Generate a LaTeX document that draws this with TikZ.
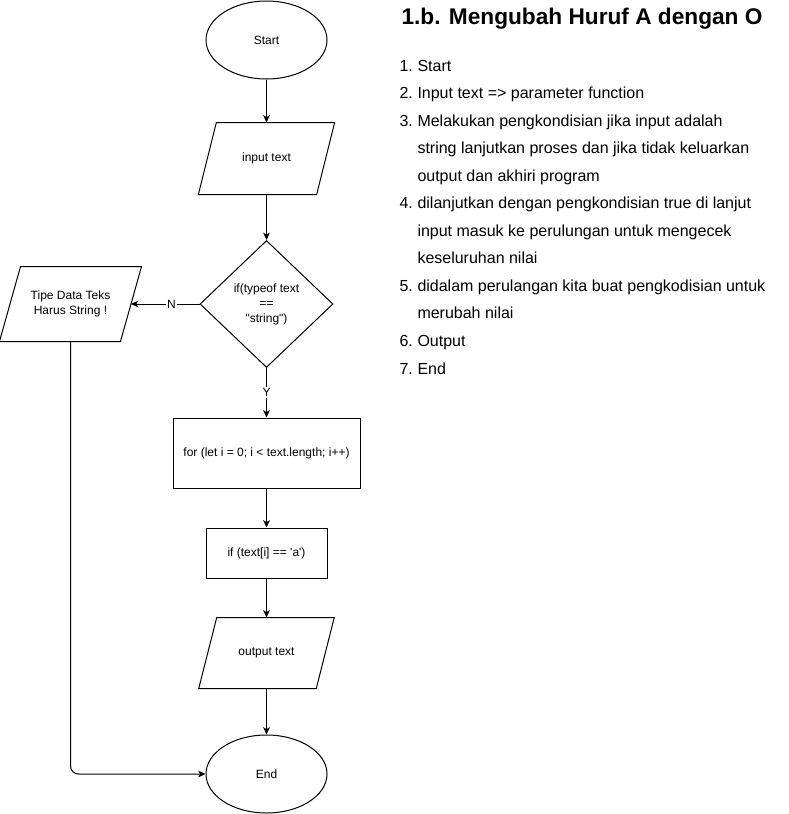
\documentclass[tikz,border=0pt]{standalone}
\usepackage{fontspec}
\newfontfamily\drawfont{Liberation Sans}
\usetikzlibrary{shapes.geometric,arrows.meta}

\begin{document}
\begin{tikzpicture}[x=0.75pt,y=-0.75pt,font=\drawfont,line width=0.75pt,
  >={Stealth[length=5.5pt,width=5pt,inset=1.5pt]},
  box/.style={draw,fill=white,font=\drawfont\fontsize{9}{11.25}\selectfont,align=center,inner sep=1pt},
  term/.style={box,ellipse,minimum width=90.75pt,minimum height=58.5pt},
  io/.style={box,draw=none,fill=none,append after command={\pgfextra{
    \draw ([xshift=#1]\tikzlastnode.north west) -- ([xshift=#1]\tikzlastnode.north east)
      -- ([xshift=-#1]\tikzlastnode.south east) -- ([xshift=-#1]\tikzlastnode.south west) -- cycle;}}},
  io/.default=6.75pt,
  lbl/.style={fill=white,font=\drawfont\fontsize{9}{11}\selectfont,inner sep=1pt},
  listline/.style={anchor=base west,inner sep=0pt,font=\drawfont\fontsize{12}{14}\selectfont}]
\useasboundingbox (0,0) rectangle (789,814);
\fill[white] (0,0) rectangle (789,814);

% flowchart
\node[term] (start) at (266.5,40) {Start};
\node[io,minimum width=88pt,minimum height=53.25pt] (input) at (266.5,158.5) {input text};
\node[box,diamond,inner sep=0pt,minimum width=99.75pt,minimum height=95.25pt] (cond) at (266.5,304) {if(typeof text\\==\\"string")};
\node[io=7.9pt,minimum width=90pt,minimum height=55.5pt] (err) at (70.5,304) {Tipe Data Teks\\Harus String !};
\node[box,minimum width=140.25pt,minimum height=52.5pt] (loop) at (266.5,453) {for (let i = 0; i < text.length; i++)};
\node[box,minimum width=90.75pt,minimum height=37.5pt] (check) at (266.5,553) {if (text[i] == 'a')};
\node[io,minimum width=87.4pt,minimum height=52.5pt] (output) at (266.5,653) {output text};
\node[term] (end) at (266.5,774) {End};

\draw[->] (start) -- (input);
\draw[->] (input) -- (cond);
\draw[->] (cond) -- node[lbl]{Y} (loop);
\draw[->] (cond) -- node[lbl,pos=0.41]{N} (err);
\draw[->] (loop) -- (check);
\draw[->] (check) -- (output);
\draw[->] (output) -- (end);
\draw[->,rounded corners=6pt] (err.south) |- (end.west);

% steps
\node[anchor=base west,inner sep=0pt,font=\drawfont\bfseries\fontsize{17}{20}\selectfont] (title) at (401,24) {1.b. Mengubah Huruf A dengan O};
\foreach \k/\txt in {0/Start,1/Input text => parameter function,2/Melakukan pengkondisian jika input adalah,
  3/string lanjutkan proses dan jika tidak keluarkan,4/output dan akhiri program,
  5/dilanjutkan dengan pengkondisian true di lanjut,6/input masuk ke perulungan untuk mengecek,7/keseluruhan nilai,
  8/didalam perulangan kita buat pengkodisian untuk,9/merubah nilai,10/Output,11/End}
  \node[listline] (line\k) at (417,{71+27.55*\k}) {\txt};
\foreach \k/\num in {0/1,1/2,2/3,5/4,8/5,10/6,11/7}
  \node[listline] (num\num) at (399,{71+27.55*\k}) {\num.};

\end{tikzpicture}
\end{document}
